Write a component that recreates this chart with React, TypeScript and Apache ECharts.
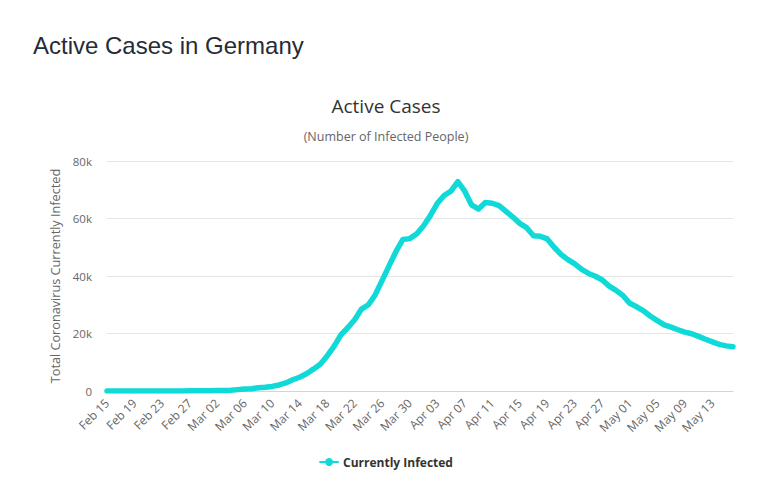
import React, { useEffect, useRef } from "react";
import * as echarts from "echarts";

const dates: string[] = [
  "Feb 15", "Feb 16", "Feb 17", "Feb 18", "Feb 19", "Feb 20", "Feb 21", "Feb 22", "Feb 23", "Feb 24",
  "Feb 25", "Feb 26", "Feb 27", "Feb 28", "Feb 29", "Mar 01", "Mar 02", "Mar 03", "Mar 04", "Mar 05",
  "Mar 06", "Mar 07", "Mar 08", "Mar 09", "Mar 10", "Mar 11", "Mar 12", "Mar 13", "Mar 14", "Mar 15",
  "Mar 16", "Mar 17", "Mar 18", "Mar 19", "Mar 20", "Mar 21", "Mar 22", "Mar 23", "Mar 24", "Mar 25",
  "Mar 26", "Mar 27", "Mar 28", "Mar 29", "Mar 30", "Mar 31", "Apr 01", "Apr 02", "Apr 03", "Apr 04",
  "Apr 05", "Apr 06", "Apr 07", "Apr 08", "Apr 09", "Apr 10", "Apr 11", "Apr 12", "Apr 13", "Apr 14",
  "Apr 15", "Apr 16", "Apr 17", "Apr 18", "Apr 19", "Apr 20", "Apr 21", "Apr 22", "Apr 23", "Apr 24",
  "Apr 25", "Apr 26", "Apr 27", "Apr 28", "Apr 29", "Apr 30", "May 01", "May 02", "May 03", "May 04",
  "May 05", "May 06", "May 07", "May 08", "May 09", "May 10", "May 11", "May 12", "May 13", "May 14",
  "May 15", "May 16",
];

const currentlyInfected: number[] = [
  14, 14, 14, 14, 14, 14, 14, 14, 14, 14,
  16, 27, 46, 48, 79, 130, 159, 196, 262, 482,
  670, 800, 1100, 1300, 1600, 2100, 2800, 3900, 4800, 6000,
  7600, 9300, 12200, 15500, 19500, 22000, 24800, 28500, 30000, 33500,
  38500, 43500, 48500, 52700, 53000, 54600, 57400, 61000, 65200, 68000,
  69500, 72800, 69500, 64700, 63300, 65600, 65300, 64500, 62500, 60500,
  58300, 56800, 54000, 53800, 52900, 50000, 47500, 45700, 44200, 42300,
  40900, 39900, 38600, 36500, 35000, 33200, 30500, 29300, 27900, 26000,
  24500, 23000, 22200, 21300, 20500, 19900, 19000, 18000, 17100, 16200,
  15700, 15400,
];

const yTicks: number[] = [0, 20000, 40000, 60000, 80000];

export default function App() {
  const ref = useRef<HTMLDivElement>(null);
  useEffect(() => {
    if (!ref.current) return;
    const chart = echarts.init(ref.current, undefined, { renderer: "svg" });
    const font = "'Open Sans', 'DejaVu Sans', sans-serif";
    chart.setOption({
      animation: false,
      backgroundColor: "#ffffff",
      title: [
        {
          text: "Active Cases in Germany",
          left: 28,
          top: 28,
          textStyle: {
            fontFamily: "'Liberation Sans', Arial, sans-serif",
            fontSize: 24,
            fontWeight: "normal",
            color: "#272b36",
          },
        },
        {
          text: "Active Cases",
          left: "center",
          top: 91,
          textStyle: { fontFamily: font, fontSize: 19, fontWeight: "normal", color: "#333333" },
        },
        {
          text: "(Number of Infected People)",
          left: "center",
          top: 125,
          textStyle: { fontFamily: font, fontSize: 12.5, fontWeight: "normal", color: "#666666" },
        },
      ],
      legend: {
        bottom: 28,
        left: "center",
        itemWidth: 18,
        itemHeight: 10,
        textStyle: { fontFamily: font, fontSize: 12, fontWeight: "bold", color: "#333333" },
        data: ["Currently Infected"],
      },
      grid: { left: 107, right: 39, top: 161, bottom: 110 },
      xAxis: {
        type: "category",
        boundaryGap: false,
        data: dates,
        axisLine: { lineStyle: { color: "#ccd6eb" } },
        axisTick: { show: false },
        axisLabel: {
          interval: 3,
          rotate: 45,
          color: "#666666",
          fontFamily: font,
          fontSize: 12,
          margin: 10,
        },
      },
      yAxis: {
        type: "value",
        min: yTicks[0],
        max: yTicks[yTicks.length - 1],
        interval: 20000,
        name: "Total Coronavirus Currently Infected",
        nameLocation: "middle",
        nameGap: 45,
        nameTextStyle: { fontFamily: font, fontSize: 12.7, color: "#666666" },
        axisLine: { show: false },
        axisTick: { show: false },
        splitLine: { lineStyle: { color: "#e6e6e6" } },
        axisLabel: {
          color: "#666666",
          fontFamily: font,
          fontSize: 11.5,
          margin: 15,
          formatter: (v: number) => (v === 0 ? "0" : v / 1000 + "k"),
        },
      },
      series: [
        {
          name: "Currently Infected",
          type: "line",
          data: currentlyInfected,
          showSymbol: false,
          symbol: "circle",
          symbolSize: 9,
          lineStyle: { width: 5.5, color: "#0fdad8", cap: "round", join: "round" },
          itemStyle: { color: "#0fdad8" },
        },
      ],
    });
    return () => chart.dispose();
  }, []);
  return <div ref={ref} style={{ position: "fixed", left: 0, top: 0, width: 772, height: 501 }} />;
}
